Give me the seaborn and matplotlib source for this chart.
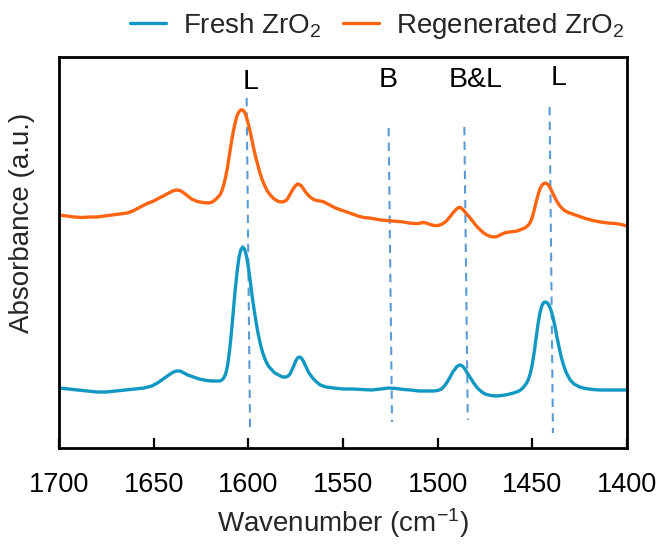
import numpy as np
import pandas as pd
import matplotlib
matplotlib.use("Agg")
import matplotlib.pyplot as plt
import seaborn as sns

# Spectra: wavenumber (cm-1) and absorbance (a.u., offset for display)
fresh_wn = [1700, 1695, 1690, 1685, 1680, 1675, 1670, 1665, 1660, 1655, 1651, 1648,
            1645, 1642, 1640, 1638, 1636, 1634, 1632, 1629, 1626, 1622, 1619, 1616,
            1615, 1614, 1613, 1612, 1611, 1610, 1609, 1608, 1607, 1606, 1605, 1604,
            1603, 1602, 1601, 1600, 1599, 1598, 1597, 1596, 1595, 1594, 1593, 1592,
            1591, 1590, 1589, 1588, 1586, 1584, 1582, 1580, 1579, 1578, 1577, 1576,
            1575, 1574, 1573, 1572, 1571, 1570, 1569, 1568, 1566, 1564, 1562, 1559,
            1555, 1550, 1545, 1540, 1535, 1530, 1526, 1522, 1518, 1514, 1510, 1505,
            1502, 1500, 1498, 1496, 1494, 1492, 1490, 1489, 1488, 1487, 1486, 1485,
            1483, 1481, 1479, 1477, 1475, 1472, 1469, 1466, 1463, 1460, 1457, 1455,
            1453, 1452, 1451, 1450, 1449, 1448, 1447, 1446, 1445, 1444, 1443, 1442,
            1441, 1440, 1439, 1438, 1437, 1436, 1435, 1434, 1433, 1432, 1430, 1428,
            1425, 1422, 1418, 1414, 1410, 1405, 1400]
fresh_abs = [0.60, 0.59, 0.58, 0.57, 0.56, 0.56, 0.57, 0.58, 0.59, 0.60, 0.62, 0.65,
             0.69, 0.73, 0.755, 0.77, 0.77, 0.75, 0.73, 0.71, 0.69, 0.675, 0.67, 0.67,
             0.67, 0.68, 0.70, 0.74, 0.82, 0.96, 1.14, 1.36, 1.57, 1.75, 1.90, 1.98,
             2.01, 1.99, 1.92, 1.81, 1.67, 1.52, 1.39, 1.27, 1.16, 1.07, 0.99, 0.93,
             0.88, 0.84, 0.81, 0.79, 0.75, 0.73, 0.71, 0.71, 0.72, 0.74, 0.78, 0.82,
             0.87, 0.90, 0.91, 0.90, 0.87, 0.83, 0.79, 0.75, 0.70, 0.66, 0.63, 0.61,
             0.60, 0.59, 0.59, 0.585, 0.58, 0.59, 0.60, 0.595, 0.585, 0.58, 0.57, 0.57,
             0.57, 0.575, 0.59, 0.63, 0.69, 0.76, 0.81, 0.825, 0.83, 0.82, 0.80, 0.77,
             0.71, 0.65, 0.60, 0.565, 0.54, 0.525, 0.52, 0.525, 0.535, 0.55, 0.57, 0.60,
             0.65, 0.69, 0.75, 0.84, 0.96, 1.10, 1.24, 1.35, 1.42, 1.455, 1.46, 1.45,
             1.42, 1.37, 1.30, 1.21, 1.11, 1.02, 0.93, 0.86, 0.80, 0.75, 0.68, 0.64,
             0.61, 0.595, 0.585, 0.58, 0.58, 0.58, 0.58]

regen_wn = [1700, 1696, 1692, 1688, 1684, 1680, 1676, 1672, 1668, 1664, 1661, 1658,
            1656, 1654, 1652, 1650, 1648, 1646, 1644, 1642, 1640, 1638, 1636, 1634,
            1632, 1630, 1627, 1624, 1621, 1619, 1617, 1615, 1614, 1613, 1612, 1611,
            1610, 1609, 1608, 1607, 1606, 1605, 1604, 1603, 1602, 1601, 1600, 1599,
            1598, 1597, 1596, 1595, 1594, 1593, 1592, 1591, 1590, 1588, 1586, 1584,
            1582, 1580, 1579, 1578, 1577, 1576, 1575, 1574, 1573, 1572, 1571, 1570,
            1568, 1566, 1564, 1562, 1560, 1558, 1556, 1554, 1551, 1548, 1545, 1542,
            1539, 1536, 1533, 1530, 1527, 1524, 1521, 1518, 1515, 1512, 1510, 1508,
            1506, 1504, 1502, 1500, 1498, 1496, 1494, 1492, 1490, 1489, 1488, 1487,
            1486, 1484, 1482, 1480, 1478, 1476, 1474, 1472, 1470, 1468, 1466, 1464,
            1462, 1460, 1458, 1456, 1454, 1452, 1451, 1450, 1449, 1448, 1447, 1446,
            1445, 1444, 1443, 1442, 1441, 1440, 1439, 1438, 1437, 1436, 1435, 1433,
            1431, 1428, 1425, 1422, 1418, 1414, 1410, 1406, 1403, 1400]
regen_abs = [2.33, 2.32, 2.31, 2.305, 2.31, 2.31, 2.32, 2.33, 2.34, 2.35, 2.37, 2.40,
             2.42, 2.44, 2.455, 2.47, 2.49, 2.51, 2.53, 2.55, 2.57, 2.58, 2.575, 2.55,
             2.52, 2.49, 2.465, 2.455, 2.45, 2.46, 2.49, 2.53, 2.57, 2.63, 2.71, 2.81,
             2.93, 3.05, 3.16, 3.25, 3.32, 3.36, 3.38, 3.38, 3.36, 3.31, 3.24, 3.16,
             3.07, 2.98, 2.90, 2.83, 2.76, 2.70, 2.65, 2.61, 2.57, 2.52, 2.485, 2.465,
             2.46, 2.475, 2.50, 2.535, 2.57, 2.60, 2.625, 2.64, 2.635, 2.62, 2.595, 2.565,
             2.52, 2.49, 2.475, 2.47, 2.46, 2.44, 2.42, 2.40, 2.38, 2.36, 2.34, 2.32,
             2.305, 2.30, 2.29, 2.28, 2.275, 2.27, 2.265, 2.26, 2.25, 2.245, 2.245, 2.255,
             2.25, 2.235, 2.225, 2.225, 2.235, 2.26, 2.30, 2.35, 2.39, 2.405, 2.405, 2.39,
             2.37, 2.325, 2.28, 2.23, 2.19, 2.155, 2.13, 2.115, 2.11, 2.12, 2.14, 2.155,
             2.16, 2.165, 2.17, 2.185, 2.20, 2.23, 2.26, 2.31, 2.38, 2.46, 2.53, 2.59,
             2.625, 2.645, 2.65, 2.64, 2.615, 2.58, 2.54, 2.50, 2.465, 2.435, 2.41, 2.375,
             2.355, 2.335, 2.315, 2.295, 2.275, 2.26, 2.25, 2.245, 2.235, 2.22]

# Characteristic pyridine bands
band_wn = [1600, 1525, 1485, 1440]
band_labels = ["L", "B", "B&L", "L"]
band_top = [3.50, 3.20, 3.21, 3.41]
band_bottom = [0.20, 0.26, 0.28, 0.15]
label_wn = [1599, 1526, 1480, 1436]
label_y = [3.66, 3.68, 3.68, 3.70]

series_names = ["Fresh ZrO$_2$", "Regenerated ZrO$_2$"]
series_colors = ["#1097c2", "#ff6410"]

df = pd.concat([
    pd.DataFrame({"Wavenumber": fresh_wn, "Absorbance": fresh_abs, "Sample": series_names[0]}),
    pd.DataFrame({"Wavenumber": regen_wn, "Absorbance": regen_abs, "Sample": series_names[1]}),
])

sns.set_theme(style="ticks")
plt.rcParams["font.family"] = ["Liberation Sans", "DejaVu Sans"]
plt.rcParams["mathtext.fontset"] = "custom"
plt.rcParams["mathtext.rm"] = "Liberation Sans"
plt.rcParams["mathtext.default"] = "regular"

fig = plt.figure(figsize=(6.62, 5.46), dpi=100)
ax = fig.add_axes([59 / 662, 1 - 448 / 546, 568 / 662, 391 / 546])

sns.lineplot(data=df, x="Wavenumber", y="Absorbance", hue="Sample",
             palette=dict(zip(series_names, series_colors)), linewidth=2.4,
             ax=ax, sort=False, estimator=None)
for line in ax.get_lines():
    line.set_solid_joinstyle("round")

tilt = 0.9
for wn, lab, top, bot, lx, ly in zip(band_wn, band_labels, band_top, band_bottom,
                                     label_wn, label_y):
    ax.plot([wn + tilt, wn - tilt], [top, bot], ls=(0, (4, 3)), color="#5b9bd5",
            lw=1.5, zorder=1)
    ax.text(lx, ly, lab, ha="center", va="center", fontsize=20.5, color="black")

ax.set_xlim(1700, 1400)
ax.set_ylim(0, 3.91)
ax.set_xticks([1700, 1650, 1600, 1550, 1500, 1450, 1400])
ax.set_yticks([])
ax.tick_params(axis="x", direction="in", length=7, width=1.6, labelsize=19.5,
               pad=17, colors="black")
for s in ax.spines.values():
    s.set_linewidth(2)
    s.set_color("black")
ax.set_xlabel("Wavenumber (cm$^{-1}$)", fontsize=20, labelpad=6)
ax.set_ylabel("Absorbance (a.u.)", fontsize=20)
ax.yaxis.set_label_coords(-0.042, 0.575)

handles, labels = ax.get_legend_handles_labels()
ax.legend(handles, labels, loc="center", bbox_to_anchor=(377 / 662, 1 - 26 / 546),
          bbox_transform=fig.transFigure, ncol=2, frameon=False, fontsize=20,
          handlelength=1.3, handletextpad=0.6, columnspacing=0.8, borderpad=0)

fig.savefig("out.png", dpi=100)
